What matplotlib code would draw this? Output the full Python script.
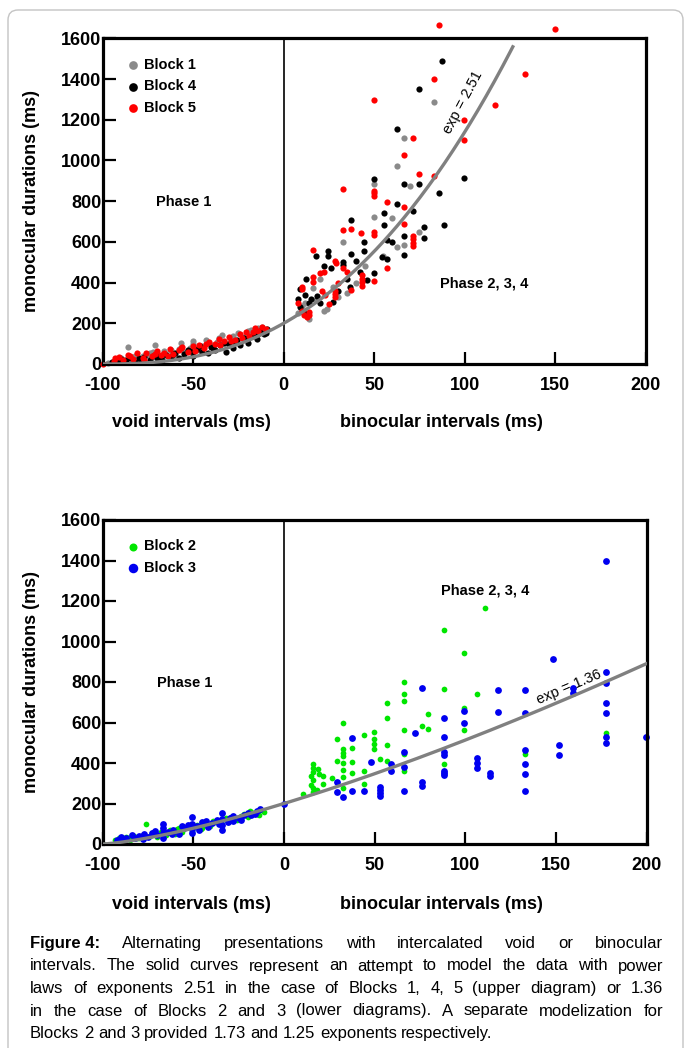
import matplotlib
matplotlib.use("Agg")
import matplotlib.pyplot as plt
from matplotlib import font_manager
from matplotlib.patches import FancyBboxPatch
from matplotlib.transforms import IdentityTransform
import numpy as np

plt.rcParams['font.family'] = ['Liberation Sans', 'DejaVu Sans']
plt.rcParams['axes.unicode_minus'] = False

# ---------------- data ----------------
# upper diagram: Blocks 1, 4, 5
block1_x = [-97, -92, -88, -86, -84, -80, -78, -75, -72, -71, -68, -65, -62, -60, -57, -55,
            -52, -50, -47, -45, -43, -40, -37, -34, -32, -29, -25, -22, -18, -15, -12, -10,
            -90, -82, -74, -66, -58, -50, -42, -36, -28, -20, -14,
            83, 66.6, 62.4, 49.9, 69.8, 49.9, 59.6, 74.8, 33, 62.4, 66.6, 14.2, 12, 16.4,
            20, 18, 10, 22, 35, 40, 27, 24, 8, 30, 45, 55]
block1_y = [5, 12, 22, 82, 30, 20, 38, 45, 60, 93, 30, 50, 70, 45, 101, 60,
            80, 114, 70, 90, 118, 95, 110, 142, 105, 125, 150, 135, 169, 150, 182, 165,
            30, 40, 55, 65, 75, 100, 105, 130, 140, 160, 175,
            1286, 1112, 972, 883, 874, 720, 715, 648, 597, 573, 584, 222, 300, 371,
            420, 315, 285, 260, 350, 400, 380, 270, 250, 330, 480, 530]

block4_x = [-95, -92, -90, -87, -85, -82, -80, -77, -74, -72, -70, -67, -65, -62, -60, -58,
            -55, -52, -50, -48, -45, -42, -40, -38, -35, -32, -30, -28, -26, -24, -22, -20,
            -17, -15, -13, -11, -9,
            -89, -79, -69, -61, -53, -46, -39, -33, -27, -21, -16, -10,
            87.6, 74.9, 62.4, 99.8, 49.9, 66.6, 74.9, 85.8, 62.4, 71.6, 55.4, 37.2, 55.4,
            88.7, 77.7, 66.6, 77.7, 44.4, 56.9, 66.6, 24.7, 17.9, 24.7, 37.2, 44.4, 54.1,
            56.9, 40, 33, 33, 49.9, 45.8, 12.3, 22, 26, 36.6, 9, 12, 18.2, 15, 27, 9, 20,
            30, 35, 42, 8, 11, 14, 60]
block4_y = [8, 15, 25, 18, 30, 12, 28, 35, 22, 40, 30, 20, 42, 35, 55, 30,
            48, 65, 40, 75, 60, 55, 85, 70, 95, 60, 100, 80, 120, 95, 130, 105,
            140, 125, 160, 145, 170,
            10, 20, 38, 50, 68, 88, 78, 105, 110, 125, 150, 150,
            1487, 1353, 1155, 913, 910, 882, 883, 841, 785, 754, 743, 708, 683,
            684, 671, 630, 618, 599, 609, 537, 555, 530, 530, 540, 555, 527,
            514, 507, 502, 486, 448, 412, 420, 480, 470, 380, 368, 340, 332, 320, 306, 278, 300,
            360, 420, 450, 320, 250, 300, 600]

block5_x = [-100, -94, -91, -89, -86, -83, -81, -78, -76, -73, -70, -68, -66, -63, -61, -58,
            -56, -53, -50, -47, -44, -41, -38, -36, -33, -30, -27, -24, -21, -19, -16, -14,
            -12, -10,
            -93, -85, -77, -71, -64, -57, -49, -43, -35, -29, -23, -17,
            85.6, 150, 83.2, 133.3, 49.9, 116.6, 99.8, 71.3, 99.8, 66.6, 74.9, 83.2, 49.9,
            49.9, 49.9, 32.9, 56.9, 66.6, 66.5, 32.9, 37.2, 42.5, 49.9, 49.9, 71.3, 71.3,
            71.3, 71.3, 16.4, 28.4, 29, 56.9, 22.3, 20, 16.4, 16.4, 43.1, 43.1, 43.1, 43.1,
            49.9, 37.2, 33, 10, 10, 21, 23, 28.4, 28.4, 28.4, 24.8, 10, 11, 13, 14.2, 14.2,
            8, 30, 35]
block5_y = [0, 15, 35, 20, 45, 25, 52, 30, 55, 40, 62, 45, 56, 75, 50, 70,
            85, 60, 90, 95, 80, 110, 100, 125, 115, 135, 120, 145, 155, 140, 175, 160,
            180, 170,
            28, 38, 22, 50, 40, 78, 65, 98, 92, 112, 130, 158,
            1664, 1647, 1399, 1425, 1299, 1274, 1199, 1111, 1098, 1027, 933, 924, 851,
            838, 826, 861, 798, 772, 687, 656, 661, 645, 650, 636, 628, 612,
            596, 579, 560, 507, 495, 470, 453, 445, 429, 404, 437, 420, 404, 383,
            409, 363, 470, 380, 366, 358, 340, 358, 343, 327, 294, 262, 240, 232, 255, 240,
            300, 400, 450]

# lower diagram: Blocks 2, 3
block2_x = [-100, -93, -91, -89, -87, -85, -83, -80, -78, -76, -74, -72, -70, -68, -65, -63,
            -60, -58, -56, -53, -51, -48, -46, -44, -41, -39, -36, -34, -31, -29, -27, -24,
            -22, -20, -18, -15, -13, -11,
            -90, -86, -81, -73, -66, -59, -52, -45, -38, -32, -26, -19, -14,
            88.4, 110.9, 99.5, 66.2, 88.4, 66.2, 66.2, 56.6, 56.6, 79.6, 75.9, 79.6, 66.2,
            32.7, 49.6, 44.1, 29.4, 49.6, 49.6, 49.6, 32.7, 32.7, 32.7, 37.7, 56.6, 66.2,
            37.7, 53, 56.6, 29.4, 16.2, 16.2, 18.6, 15.8, 19.3, 14.7, 16.2, 14.7, 16.2, 16.2,
            18.4, 21.7, 21.7, 26.3, 32.7, 32.7, 32.7, 88.4, 37.7, 44.1, 66.2, 44.1, 32.7,
            10.3, 106.3, 99.5, 99.5, 177.4, 132.9]
block2_y = [0, 20, 30, 25, 35, 18, 40, 30, 45, 97, 40, 55, 35, 60, 45, 70,
            50, 80, 60, 90, 65, 95, 75, 100, 90, 115, 105, 120, 110, 135, 125, 140,
            150, 135, 160, 150, 170, 160,
            15, 32, 28, 52, 40, 72, 85, 80, 110, 130, 120, 165, 145,
            1057, 1167, 941, 798, 764, 741, 708, 698, 621, 640, 583, 568, 563,
            596, 551, 538, 517, 518, 494, 469, 469, 451, 435, 472, 489, 443,
            407, 420, 410, 408, 395, 375, 368, 355, 345, 335, 315, 290, 275, 258,
            265, 337, 295, 328, 398, 365, 332, 395, 352, 360, 362, 295, 275,
            247, 739, 673, 561, 548, 446]

block3_x = [-92, -90, -87, -84, -82, -80, -78, -75, -73, -70, -67, -67, -67, -67, -64, -61,
            -58, -55, -53, -51, -51, -51, -51, -48, -45, -42, -40, -37, -34, -34, -34, -34,
            -31, -28, -28, -25, -22, -20, -18, -15, -13,
            -88, -77, -71, -62, -56, -47, -43, -36, -30, -24, -16,
            0, 29.4, 29.4, 32.7, 37.7, 37.7, 44.1, 47.8, 53, 53, 53, 53, 59, 59, 66.2, 66.2,
            66.2, 72.2, 75.9, 75.9, 75.9, 88.4, 88.4, 88.4, 88.4, 88.4, 88.4, 88.4, 99.4,
            99.4, 106.3, 106.3, 106.3, 113.6, 113.6, 118.2, 118.2, 132.9, 132.9, 132.9,
            132.9, 132.9, 132.9, 148.5, 151.8, 151.8, 159.5, 159.5, 177.6, 177.6, 177.6,
            177.6, 177.6, 177.6, 177.6, 199.6]
block3_y = [20, 35, 28, 45, 30, 40, 25, 35, 55, 45, 30, 55, 80, 100, 60, 70,
            50, 80, 95, 55, 75, 100, 135, 90, 110, 85, 105, 120, 70, 95, 125, 152,
            110, 115, 140, 130, 145, 155, 145, 165, 175,
            15, 50, 62, 48, 88, 70, 112, 98, 130, 120, 150,
            200, 305, 257, 234, 522, 262, 260, 407, 283, 267, 250, 237, 395, 360, 456, 382,
            260, 550, 772, 305, 288, 621, 528, 453, 439, 362, 349, 339, 657,
            597, 423, 398, 374, 351, 338, 759, 651, 759, 645, 464,
            397, 346, 262, 912, 489, 438, 769, 748, 1400, 848, 797,
            698, 645, 530, 497, 530]

# power-law fits: y = y0 * ((x + 100) / 100) ** exponent
fit_upper_exp, fit_upper_y0, fit_upper_xmax = 2.51, 200, 127
fit_lower_exp, fit_lower_y0, fit_lower_xmax = 1.36, 200, 200

caption_head = "Figure 4:"
caption_lines = [
    "Alternating presentations with intercalated void or binocular",
    "intervals. The solid curves represent an attempt to model the data with power",
    "laws of exponents 2.51 in the case of Blocks 1, 4, 5 (upper diagram) or 1.36",
    "in the case of Blocks 2 and 3 (lower diagrams). A separate modelization for",
    "Blocks 2 and 3 provided 1.73 and 1.25 exponents respectively.",
]

# ---------------- figure ----------------
W, H = 684, 1048
fig = plt.figure(figsize=(W / 100, H / 100), dpi=100)
fig.patch.set_facecolor('white')

frame = FancyBboxPatch((8, -12), 675, 1050, boxstyle="round,pad=0,rounding_size=10",
                       transform=IdentityTransform(), fc='none', ec='#c4c4c4', lw=1.0)
fig.patches.append(frame)

ax1 = fig.add_axes([102.7 / W, 1 - 364 / H, 543 / W, 325.7 / H])
ax2 = fig.add_axes([102.7 / W, 1 - 844 / H, 544 / W, 324 / H])

GRAY = '#8a8a8a'
CURVE = '#808080'


def style_axes(ax, ylab_y):
    ax.set_xlim(-100, 200)
    ax.set_ylim(0, 1600)
    ax.set_xticks([-100, -50, 0, 50, 100, 150, 200])
    ax.set_yticks(range(0, 1601, 200))
    ax.tick_params(direction='in', length=9, width=1.6, labelsize=13)
    ax.tick_params(axis='x', pad=9)
    ax.tick_params(axis='y', pad=1)
    for lab in ax.get_xticklabels() + ax.get_yticklabels():
        lab.set_fontweight('bold')
    for sp in ax.spines.values():
        sp.set_linewidth(2.3)
    ax.axvline(0, color='black', lw=1.2, zorder=1)
    ax.set_ylabel('monocular durations (ms)', fontsize=13, fontweight='bold')
    ax.yaxis.set_label_coords(-0.115, 0.5)
    tr = ax.get_xaxis_transform()
    ax.text(-51, ylab_y, 'void intervals (ms)', transform=tr, ha='center', va='center',
            fontsize=13, fontweight='bold')
    ax.text(87, ylab_y, 'binocular intervals (ms)', transform=tr, ha='center', va='center',
            fontsize=13, fontweight='bold')


style_axes(ax1, -0.181)
style_axes(ax2, -0.188)

legend_kw = dict(loc='upper left', bbox_to_anchor=(0.042, 0.94), frameon=False,
                 prop={'weight': 'bold', 'size': 10.5}, handletextpad=0.25, labelspacing=0.52,
                 borderaxespad=0, borderpad=0, handlelength=1.0)

# upper diagram
h1 = ax1.scatter(block1_x, block1_y, s=20, color=GRAY, lw=0, zorder=2, clip_on=False, label='Block 1')
h4 = ax1.scatter(block4_x, block4_y, s=20, color='black', lw=0, zorder=2, clip_on=False, label='Block 4')
h5 = ax1.scatter(block5_x, block5_y, s=20, color='#ff0000', lw=0, zorder=2, clip_on=False, label='Block 5')
xs = np.linspace(-100, fit_upper_xmax, 300)
ax1.plot(xs, fit_upper_y0 * ((xs + 100) / 100) ** fit_upper_exp, color=CURVE, lw=2.4, zorder=3,
         solid_capstyle='butt')
ax1.text(99, 1285, 'exp = 2.51', rotation=62, ha='center', va='center', fontsize=10.5)
ax1.text(-55, 797, 'Phase 1', ha='center', va='center', fontsize=10.5, fontweight='bold')
ax1.text(111, 396, 'Phase 2, 3, 4', ha='center', va='center', fontsize=10.5, fontweight='bold')
ax1.legend(handles=[h1, h4, h5], markerscale=1.4, **legend_kw)

# lower diagram
h2 = ax2.scatter(block2_x, block2_y, s=17, color='#00e600', lw=0, zorder=2, label='Block 2')
h3 = ax2.scatter(block3_x, block3_y, s=24, color='#0000f0', lw=0, zorder=2, clip_on=False, label='Block 3')
xs = np.linspace(-100, fit_lower_xmax, 300)
ax2.plot(xs, fit_lower_y0 * ((xs + 100) / 100) ** fit_lower_exp, color=CURVE, lw=2.4, zorder=3)
ax2.text(157, 774, 'exp = 1.36', rotation=23, ha='center', va='center', fontsize=10.5)
ax2.text(-55, 793, 'Phase 1', ha='center', va='center', fontsize=10.5, fontweight='bold')
ax2.text(111, 1251, 'Phase 2, 3, 4', ha='center', va='center', fontsize=10.5, fontweight='bold')
ax2.legend(handles=[h2, h3], markerscale=1.4, **legend_kw)

# caption, justified
try:
    font_manager.findfont('Liberation Sans Narrow', fallback_to_default=False)
    cap_family, cap_size = 'Liberation Sans Narrow', 14.5
except ValueError:
    cap_family, cap_size = 'Liberation Sans', 12

renderer = fig.canvas.get_renderer()
left_px, right_px = 30, 663
baselines = [948, 970.5, 993, 1015.5, 1038]
probe = fig.text(0, 0, 'x x', fontsize=cap_size, family=cap_family)
probe2 = fig.text(0, 0, 'xx', fontsize=cap_size, family=cap_family)
space_w = probe.get_window_extent(renderer).width - probe2.get_window_extent(renderer).width
probe.remove()
probe2.remove()

for i, line in enumerate(caption_lines):
    words = line.split()
    texts = []
    if i == 0:
        words = [caption_head] + words
    for j, w in enumerate(words):
        weight = 'bold' if (i == 0 and j == 0) else 'normal'
        t = fig.text(0, 1 - baselines[i] / H, w, fontsize=cap_size, fontweight=weight,
                     family=cap_family, va='baseline', ha='left')
        texts.append(t)
    widths = [t.get_window_extent(renderer).width for t in texts]
    x = left_px
    if i < len(caption_lines) - 1:
        gap = (right_px - left_px - sum(widths)) / (len(words) - 1)
    else:
        gap = space_w
    for t, w in zip(texts, widths):
        t.set_x(x / W)
        x += w + gap

fig.savefig('out.png', dpi=100)
